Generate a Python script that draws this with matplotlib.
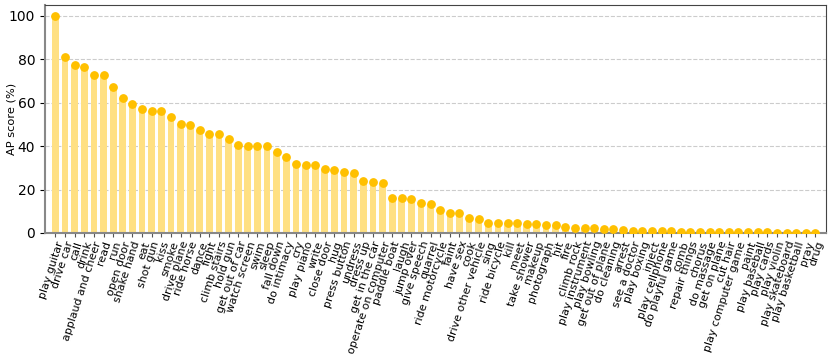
import matplotlib
matplotlib.use("Agg")
from matplotlib import pyplot as plt
import numpy as np

labels = [
    "play guitar", "drive car", "call", "drink", "applaud and cheer", "read", "run",
    "open door", "shake hand", "eat", "shot gun", "kiss", "smoke", "drive plane",
    "ride horse", "dance", "fight", "climb stairs", "hold gun", "get out of car",
    "watch screen", "swim", "sleep", "fall down", "do intimacy", "cry", "play piano",
    "write", "close door", "hug", "press button", "undress", "dress up",
    "get in the car", "operate on computer", "paddle boat", "laugh", "jump over",
    "give speech", "quarrel", "ride motorcycle", "faint", "have sex", "cook",
    "drive other vehicle", "sing", "ride bicycle", "kill", "meet", "take shower",
    "makeup", "photograph", "hit", "fire", "climb rock", "play instrument",
    "play bowling", "get out of plane", "do cleaning", "arrest", "see a doctor",
    "play boxing", "inject", "play cellphone", "do playful game", "comb",
    "repair things", "chorus", "do massage", "get on plane", "cut hair",
    "play computer game", "paint", "play baseball", "play cards", "play violin",
    "play skateboard", "play basketball", "pray", "drug",
]

ap_scores = [
    100.0, 80.9, 77.5, 76.5, 72.9, 72.9, 67.1, 62.1, 59.5, 56.9,
    56.3, 56.1, 53.2, 50.0, 49.8, 47.4, 45.7, 45.4, 43.3, 40.4,
    40.2, 39.9, 39.9, 37.3, 35.1, 31.9, 31.5, 31.2, 29.5, 28.9,
    28.3, 27.5, 24.1, 23.4, 22.8, 16.3, 15.9, 15.6, 13.8, 13.3,
    10.4, 9.0, 9.0, 6.7, 6.4, 4.7, 4.6, 4.6, 4.6, 4.3,
    4.3, 3.9, 3.8, 2.6, 2.3, 2.3, 2.1, 2.0, 1.9, 1.4,
    1.1, 1.0, 0.9, 1.0, 0.9, 0.6, 0.5, 0.5, 0.4, 0.4,
    0.4, 0.3, 0.3, 0.3, 0.3, 0.2, 0.2, 0.2, 0.2, 0.2,
]

x = np.arange(len(labels))

fig = plt.figure(figsize=(8.31, 3.59), dpi=100)
ax = fig.add_axes([0.054, 0.351, 0.94, 0.635])

ax.bar(x, ap_scores, width=0.7, color="#FFE083", zorder=2)
ax.scatter(x, ap_scores, s=28, color="#FFC000", zorder=3)

ax.set_xlim(-1.1, len(labels) + 0.1)
ax.set_ylim(0, 105)
ax.set_yticks([0, 20, 40, 60, 80, 100])
ax.yaxis.grid(True, linestyle="--", color="#cccccc", linewidth=0.8, zorder=0)
ax.set_axisbelow(True)

ax.set_xticks(x)
ax.set_xticklabels(labels, rotation=72, ha="right", rotation_mode="anchor", fontsize=7.9)
ax.tick_params(axis="x", length=3, pad=2, color="#555555")
ax.tick_params(axis="y", labelsize=10)
ax.set_ylabel("AP score (%)", fontsize=8.2)
ax.yaxis.set_label_coords(-0.036, 0.5)

for side in ["left", "bottom"]:
    ax.spines[side].set_color("#888888")
    ax.spines[side].set_linewidth(1.5)
for side in ["top", "right"]:
    ax.spines[side].set_color("#444444")

fig.savefig("out.png", dpi=100)
